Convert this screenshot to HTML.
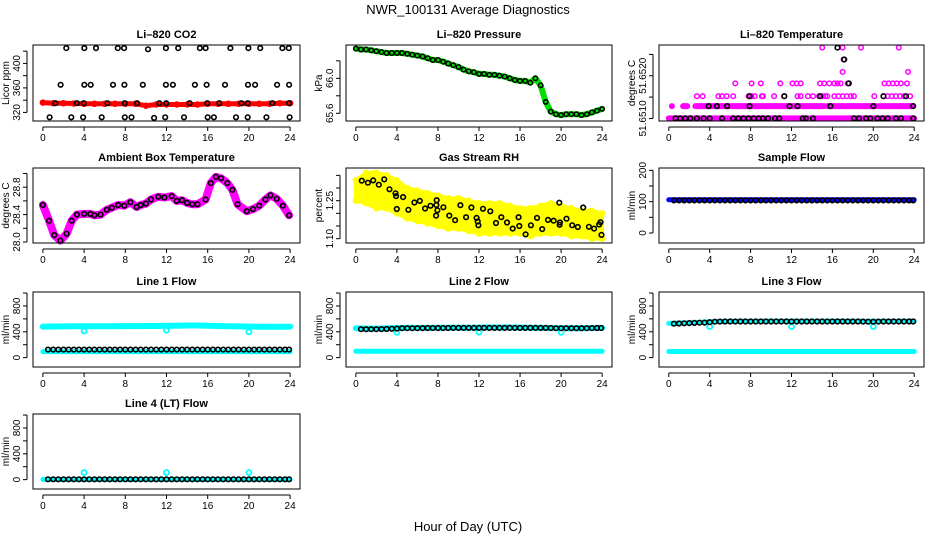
<!DOCTYPE html>
<html><head><meta charset="utf-8">
<style>
html,body{margin:0;padding:0;background:#fff;}
svg{display:block;font-family:"Liberation Sans",sans-serif;}
</style></head>
<body>
<svg id="chart" width="936" height="540" viewBox="0 0 936 540" xmlns="http://www.w3.org/2000/svg">
<text x="468" y="14" text-anchor="middle" font-size="13">NWR_100131  Average Diagnostics</text>
<text x="468" y="531" text-anchor="middle" font-size="13">Hour of Day (UTC)</text>
<g id="plots"></g>
</svg>
<script>
// ---- data ----
const xTicks = [0,4,8,12,16,20,24];
const halfHours = [0.5,1,1.5,2,2.5,3,3.5,4,4.5,5,5.5,6,6.5,7,7.5,8,8.5,9,9.5,10,10.5,11,11.5,12,12.5,13,13.5,14,14.5,15,15.5,16,16.5,17,17.5,18,18.5,19,19.5,20,20.5,21,21.5,22,22.5,23,23.5,23.9];
const hours = [0,1,2,3,4,5,6,7,8,9,10,11,12,13,14,15,16,17,18,19,20,21,22,23,24];
const outlierHours = [4,12,20];

// CO2
const co2Red = [336,335,335,334.5,334,334,334,334,334,334,331,333,333,333,333,333,334,334,334,334,334,334,334,335,335];
const co2BlackHours = [2.27,4.02,5.16,7.27,7.88,10.2,11.94,13.14,15.24,15.8,18.2,19.95,21.1,23.25,23.87,
 1.72,4.02,4.64,6.81,7.91,9.7,11.94,12.62,14.76,15.89,17.68,19.91,20.6,22.74,23.9,
 1.2,3.3,3.96,6.26,7.95,9.15,11.3,11.97,14.24,15.96,17.13,19.27,19.88,22.28,23.9,
 0.65,2.76,3.9,5.71,7.95,8.6,10.8,11.87,13.7,16.0,16.6,18.75,19.88,21.7,23.95];
const co2BlackValues = [425,425,425,425,425,423,425,425,425,425,425,425,425,425,425,
 365,365,365,365,365,365,365,365,365,365,365,365,365,365,365,
 335,335,335,335,335,335,335,335,335,335,335,335,335,335,335,
 312,312,312,312,312,312,311,312,312,312,312,312,312,312,312];

// Pressure
const presHours = [0,0.5,1,1.5,2,2.5,3,3.5,4,4.5,5,5.5,6,6.5,7,7.5,8,8.5,9,9.5,10,10.5,11,11.5,12,12.5,13,13.5,14,14.5,15,15.5,16,16.5,17,17.5,18,18.5,19,19.5,20,20.5,21,21.5,22,22.5,23,23.5,24];
const presValues = [66.34,66.33,66.33,66.32,66.31,66.30,66.29,66.29,66.29,66.29,66.28,66.27,66.26,66.25,66.23,66.21,66.21,66.19,66.17,66.15,66.13,66.10,66.08,66.07,66.05,66.05,66.04,66.04,66.03,66.02,66.00,65.98,65.97,65.97,65.95,66.00,65.92,65.73,65.62,65.59,65.58,65.59,65.59,65.59,65.58,65.59,65.61,65.63,65.65];

// Li-820 temperature (levels)
const tL = [51.6510,51.65129,51.65152,51.65182,51.65209,51.65238,51.65266];
const magRunStart = [0,0.3,1.4,2.6,6.2,15.5,20.6];
const magRunEnd   = [24,0.3,1.8,6.0,15.2,20.3,23.8];
const magRunLevel = [0,1,1,1,1,1,1];
const magPtHours = [2.75,3.3,4.85,5.2,5.65,6.3,7.8,8.1,8.4,9.1,9.2,10.3,11.3,12.6,12.9,13.6,14.1,14.7,15.0,15.3,15.5,16.2,16.6,17.0,17.4,17.8,18.1,20.1,21.0,21.4,21.8,22.2,22.6,23.0,23.6,
 6.5,8.1,9.0,10.9,12.1,12.5,12.9,14.8,15.2,15.7,16.2,16.5,16.8,17.5,21.1,21.5,21.9,22.3,22.7,23.3, 17.0,23.4, 17.1, 15.0,17.0,18.8,22.5];
const magPtLevel = [2,2,2,2,2,2,2,2,2,2,2,2,2,2,2,2,2,2,2,2,2,2,2,2,2,2,2,2,2,2,2,2,2,2,2,
 3,3,3,3,3,3,3,3,3,3,3,3,3,3,3,3,3,3,3,3, 4,4, 5, 6,6,6,6];
const blkHours = [0.65,1.1,1.6,2.1,2.75,3.4,4.0,5.2,6.3,6.8,7.3,7.8,8.3,8.8,9.2,9.7,10.4,10.8,13.1,13.4,14.1,18.1,18.6,19.3,19.7,20.4,20.9,21.4,22.2,22.7,23.9,
 3.9,4.7,5.7,7.9,11.8,12.6,15.8,20.0,23.9, 7.9,11.3,14.8,21.0,23.2, 17.6, 17.15, 16.5];
const blkLevel = [0,0,0,0,0,0,0,0,0,0,0,0,0,0,0,0,0,0,0,0,0,0,0,0,0,0,0,0,0,0,0,
 1,1,1,1,1,1,1,1,1, 2,2,2,2,2, 3, 5, 6];

// Ambient box temperature
const ambHours = [0,0.6,1.1,1.7,2.3,2.8,3.3,4,4.6,5,5.6,6.2,6.7,7.3,7.9,8.5,9.1,9.5,10,10.5,11.2,11.8,12.5,13,13.5,14,14.5,15,15.8,16.3,16.8,17.3,17.9,18.4,18.9,19.8,20.4,21,21.6,22.1,22.7,23.3,23.9];
const ambValues = [28.54,28.31,28.10,28.02,28.12,28.31,28.40,28.41,28.41,28.39,28.40,28.47,28.50,28.54,28.53,28.58,28.51,28.54,28.56,28.62,28.66,28.65,28.67,28.60,28.61,28.57,28.55,28.55,28.62,28.86,28.95,28.93,28.86,28.76,28.55,28.45,28.48,28.53,28.62,28.68,28.63,28.53,28.39];

// Gas stream RH
const rhUpper = [1.33,1.36,1.36,1.35,1.33,1.30,1.29,1.28,1.27,1.26,1.26,1.25,1.24,1.24,1.24,1.23,1.22,1.22,1.23,1.24,1.23,1.22,1.21,1.21,1.20];
const rhLower = [1.25,1.24,1.22,1.22,1.20,1.18,1.17,1.16,1.15,1.14,1.14,1.13,1.12,1.12,1.12,1.12,1.12,1.11,1.12,1.12,1.12,1.11,1.11,1.10,1.10];
const rhBlackHours = [0.58,1.17,1.69,2.24,2.76,3.28,3.86,3.92,3.99,4.6,5.12,5.71,6.23,6.75,7.27,7.88,7.85,7.82,7.95,8.53,9.11,9.67,10.19,10.74,11.26,11.77,11.87,11.94,12.39,13.1,13.66,14.17,14.73,15.28,15.86,15.93,16.54,17.06,17.65,18.16,18.72,19.27,19.82,19.85,19.88,20.53,21.08,21.63,22.15,22.71,23.22,23.71,23.84,23.94];
const rhBlackValues = [1.329,1.321,1.330,1.313,1.334,1.295,1.279,1.268,1.217,1.264,1.214,1.243,1.249,1.219,1.230,1.252,1.233,1.191,1.212,1.224,1.191,1.173,1.232,1.185,1.223,1.182,1.168,1.153,1.218,1.208,1.162,1.185,1.164,1.140,1.185,1.150,1.117,1.153,1.182,1.138,1.174,1.171,1.242,1.155,1.164,1.179,1.153,1.146,1.223,1.147,1.140,1.156,1.165,1.115];

// Sample flow
const sampleBlue = [106,106,106,106,106,106,106,106,106,106,106,106,106,106,106,106,106,106,106,106,106,106,106,106,106];
const sampleBlack = [104,104,104,104,104,104,104,104,104,104,104,104,104,104,104,104,104,104,104,104,104,104,104,104,104,104,104,104,104,104,104,104,104,104,104,104,104,104,104,104,104,104,104,104,104,104,104,104];

// Line flows
const l1CyanHigh = [480,482,484,485,486,487,486,487,488,488,489,490,494,495,497,498,494,490,486,483,480,479,478,479,480];
const l1CyanLow  = [93,93,93,93,93,93,93,93,93,93,93,93,93,93,93,93,93,93,93,93,93,93,93,93,93];
const l1Black = [124,124,124,124,124,124,124,124,124,124,124,124,124,124,124,124,124,124,124,124,124,124,124,124,124,124,124,124,124,124,124,124,124,124,124,124,124,124,124,124,124,124,124,124,124,124,124,124];
const l1Outliers = [410,425,400];
const l2CyanHigh = [455,450,450,452,458,460,460,461,462,462,463,464,465,466,466,466,465,464,460,458,455,455,456,458,460];
const l2CyanLow  = [100,100,100,100,100,100,100,100,100,100,100,100,100,100,100,100,100,100,100,100,100,100,100,100,100];
const l2Black = [440,440,440,440,442,444,446,450,455,455,456,456,457,458,458,458,459,459,460,460,460,460,460,460,460,460,460,460,460,460,460,460,460,460,460,460,460,458,456,455,455,455,455,456,456,457,458,458];
const l2Outliers = [390,395,390];
const l3CyanHigh = [530,535,540,545,555,560,562,563,564,565,565,566,566,566,566,566,565,565,565,564,562,562,563,565,565];
const l3CyanLow  = [95,95,95,95,95,95,95,95,95,95,95,95,95,95,95,95,95,95,95,95,95,95,95,95,95];
const l3Black = [525,528,532,535,538,540,542,548,556,558,560,560,560,560,560,560,560,560,560,560,560,560,560,560,560,560,560,560,560,560,560,560,560,560,560,560,560,558,557,556,558,560,560,560,560,560,560,560];
const l3Outliers = [480,480,480];
const l4Cyan  = [2,2,2,2,2,2,2,2,2,2,2,2,2,2,2,2,2,2,2,2,2,2,2,2,2];
const l4Black = [5,5,5,5,5,5,5,5,5,5,5,5,5,5,5,5,5,5,5,5,5,5,5,5,5,5,5,5,5,5,5,5,5,5,5,5,5,5,5,5,5,5,5,5,5,5,5,5];
const l4Outliers = [110,110,110];

// ---- drawing ----
const NS = "http://www.w3.org/2000/svg";
const root = document.getElementById('plots');
const XMIN = -0.96, XMAX = 24.96;
function mk(tag, attrs, parent){
  const e = document.createElementNS(NS, tag);
  for (const k in attrs) e.setAttribute(k, attrs[k]);
  (parent||root).appendChild(e);
  return e;
}
function makePanel(name, title, ylab, box, ylim, yTicks, yLabels){
  const g = mk('g', {});
  
  
  const p = {g, box, ylim,
    sx: v => box[0] + (v - XMIN) / (XMAX - XMIN) * (box[2]-box[0]),
    sy: v => box[3] - (v - ylim[0]) / (ylim[1]-ylim[0]) * (box[3]-box[1])};
  const t = mk('text', {x:(box[0]+box[2])/2, y:box[1]-7, 'text-anchor':'middle', 'font-size':11, 'font-weight':'bold'}, g);
  t.textContent = title;
  
  
  // x axis
  const xa = mk('g', {stroke:'#000','stroke-width':1}, g);
  
  
  const ay = box[3]+6;
  mk('line', {x1:p.sx(xTicks[0]), x2:p.sx(xTicks[xTicks.length-1]), y1:ay, y2:ay}, xa);
  xTicks.forEach(v => {
    mk('line', {x1:p.sx(v), x2:p.sx(v), y1:ay, y2:ay+4}, xa);
    const tx = mk('text', {x:p.sx(v), y:ay+14, 'text-anchor':'middle', 'font-size':10, stroke:'none'}, xa);
    tx.textContent = v;
    
    
  });
  // y axis
  const ya = mk('g', {stroke:'#000','stroke-width':1}, g);
  
  
  const ax = box[0]-6;
  mk('line', {x1:ax, x2:ax, y1:p.sy(yTicks[0]), y2:p.sy(yTicks[yTicks.length-1])}, ya);
  yTicks.forEach(v => mk('line', {x1:ax-4, x2:ax, y1:p.sy(v), y2:p.sy(v)}, ya));
  yLabels.forEach(l => {
    const yy = p.sy(parseFloat(l));
    const tx = mk('text', {x:ax-7, y:yy, 'text-anchor':'middle', 'font-size':10, stroke:'none', transform:`rotate(-90 ${ax-7} ${yy})`}, ya);
    tx.textContent = l;
    
    
  });
  const yl = mk('text', {x:box[0]-24, y:(box[1]+box[3])/2, 'text-anchor':'middle', 'font-size':10, transform:`rotate(-90 ${box[0]-24} ${(box[1]+box[3])/2})`}, g);
  yl.textContent = ylab;
  
  
  p.plot = mk('g', {}, g);
  
  
  mk('rect', {x:box[0], y:box[1], width:box[2]-box[0], height:box[3]-box[1], fill:'none', stroke:'#000', 'stroke-width':1}, g);
  return p;
}
function band(p, xs, ys, color, w){
  const d = xs.map((x,i)=>(i?'L':'M')+p.sx(x).toFixed(1)+' '+p.sy(ys[i]).toFixed(1)).join(' ');
  const e = mk('path', {d, fill:'none', stroke:color, 'stroke-width':w, 'stroke-linejoin':'round', 'stroke-linecap':'round'}, p.plot);
  
  
}
function pts(p, xs, ys, color, r, sw, name){
  const g = mk('g', {fill:'none', stroke:color, 'stroke-width':sw}, p.plot);
  
  
  xs.forEach((x,i) => {
    const c = mk('circle', {cx:p.sx(x).toFixed(1), cy:p.sy(ys[i]).toFixed(1), r}, g);
    
    
  });
}

const C1=[33,300], C2=[346,612], C3=[659,924];
const R1=[45,121], R2=[168,243], R3=[292,367], R4=[414,489];
const bx = (c,r) => [c[0], r[0], c[1], r[1]];
const flowTicks=[0,200,400,600,800,1000], flowLabels=['0','400','800'];

// Panel 1 CO2
let p = makePanel('co2-panel','Li\u2013820 CO2','Licor ppm',bx(C1,R1),[306,430],[320,340,360,380,400,420],['320','360','400']);
band(p, hours, co2Red, '#ff0000', 5);
pts(p, hours, co2Red, '#ff0000', 2.5, 1.5, 'co2-red-points');
pts(p, co2BlackHours, co2BlackValues, '#000', 2.3, 1.6, 'co2-black-points');

// Panel 2 Pressure
p = makePanel('pressure-panel','Li\u2013820 Pressure','kPa',bx(C2,R2.map((v,i)=>R1[i])),[65.512,66.381],[65.6,65.8,66.0,66.2],['65.6','66.0']);
band(p, presHours, presValues, '#00dd00', 6);
pts(p, presHours, presValues, '#000', 2.2, 1.5, 'pressure-black-points');

// Panel 3 Li-820 Temp
p = makePanel('li820-temp-panel','Li\u2013820 Temperature','degrees C',bx(C3,R1),[51.65094,51.65272],[51.6510,51.6515,51.6520,51.6525],['51.6510','51.6520']);
magRunStart.forEach((s,i) => band(p, [s, magRunEnd[i]], [tL[magRunLevel[i]], tL[magRunLevel[i]]], '#ff00ff', 6));
pts(p, magPtHours, magPtLevel.map(l=>tL[l]), '#ff00ff', 2.3, 1.5, 'li820-temp-magenta-points');
pts(p, blkHours, blkLevel.map(l=>tL[l]), '#000', 2.3, 1.6, 'li820-temp-black-points');

// Panel 4 Ambient
p = makePanel('ambient-temp-panel','Ambient Box Temperature','degrees C',bx(C1,R2),[27.985,29.08],[28.0,28.2,28.4,28.6,28.8,29.0],['28.0','28.4','28.8']);
band(p, ambHours, ambValues, '#ff00ff', 8);
pts(p, ambHours, ambValues, '#000', 2.3, 1.6, 'ambient-black-points');

// Panel 5 RH
p = makePanel('rh-panel','Gas Stream RH','percent',bx(C2,R2),[1.083,1.379],[1.10,1.15,1.20,1.25,1.30,1.35],['1.10','1.25']);
{
  const up = hours.map((h,i)=>p.sx(h).toFixed(1)+','+p.sy(rhUpper[i]).toFixed(1));
  const lo = hours.map((h,i)=>p.sx(h).toFixed(1)+','+p.sy(rhLower[i]).toFixed(1)).reverse();
  const poly = mk('polygon', {points: up.concat(lo).join(' '), fill:'#ffff00', stroke:'#ffff00', 'stroke-width':4, 'stroke-linejoin':'round'}, p.plot);
  
  
  pts(p, hours, rhUpper, '#ffff00', 2.5, 1.5, 'rh-yellow-upper-points');
  pts(p, hours, rhLower, '#ffff00', 2.5, 1.5, 'rh-yellow-lower-points');
}
pts(p, rhBlackHours, rhBlackValues, '#000', 2.3, 1.6, 'rh-black-points');

// Panel 6 Sample flow
p = makePanel('sample-flow-panel','Sample Flow','ml/min',bx(C3,R2),[-31.9,207.4],[0,50,100,150,200],['0','100','200']);
band(p, hours, sampleBlue, '#0000ff', 5);
pts(p, halfHours, sampleBlack, '#000', 2.3, 1.6, 'sample-black-points');

// Panel 7 Line 1
p = makePanel('line1-flow-panel','Line 1 Flow','ml/min',bx(C1,R3),[-145,1016],flowTicks,flowLabels);
band(p, hours, l1CyanHigh, '#00ffff', 6);
band(p, hours, l1CyanLow, '#00ffff', 5);
pts(p, outlierHours, l1Outliers, '#00ffff', 2.5, 1.8, 'line1-cyan-outliers');
pts(p, halfHours, l1Black, '#000', 2.3, 1.6, 'line1-black-points');

// Panel 8 Line 2
p = makePanel('line2-flow-panel','Line 2 Flow','ml/min',bx(C2,R3),[-145,1016],flowTicks,flowLabels);
band(p, hours, l2CyanHigh, '#00ffff', 6);
band(p, hours, l2CyanLow, '#00ffff', 5);
pts(p, outlierHours, l2Outliers, '#00ffff', 2.5, 1.8, 'line2-cyan-outliers');
pts(p, halfHours, l2Black, '#000', 2.3, 1.6, 'line2-black-points');

// Panel 9 Line 3
p = makePanel('line3-flow-panel','Line 3 Flow','ml/min',bx(C3,R3),[-145,1016],flowTicks,flowLabels);
band(p, hours, l3CyanHigh, '#00ffff', 5);
band(p, hours, l3CyanLow, '#00ffff', 5);
pts(p, outlierHours, l3Outliers, '#00ffff', 2.5, 1.8, 'line3-cyan-outliers');
pts(p, halfHours, l3Black, '#000', 2.3, 1.6, 'line3-black-points');

// Panel 10 Line 4
p = makePanel('line4-flow-panel','Line 4 (LT) Flow','ml/min',bx(C1,R4),[-145,1016],flowTicks,flowLabels);
band(p, hours, l4Cyan, '#00ffff', 5);
pts(p, outlierHours, l4Outliers, '#00ffff', 2.5, 1.8, 'line4-cyan-outliers');
pts(p, halfHours, l4Black, '#000', 2.3, 1.6, 'line4-black-points');
</script>
</body></html>
